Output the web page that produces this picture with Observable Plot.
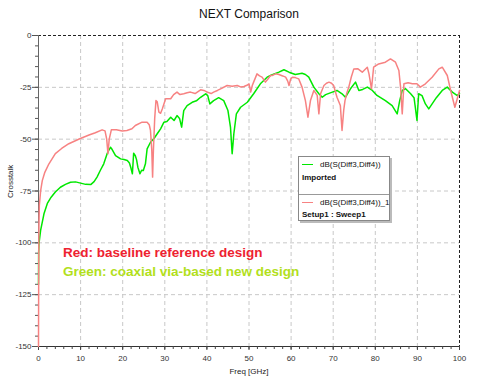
<!DOCTYPE html>
<html>
<head>
<meta charset="utf-8">
<script src="https://cdn.jsdelivr.net/npm/d3@7"></script>
<script src="https://cdn.jsdelivr.net/npm/@observablehq/plot@0.6"></script>
<style>
  html, body { margin: 0; padding: 0; background: #fff; }
  #wrap { position: relative; width: 480px; height: 390px; overflow: hidden; font-family: Arial, "Liberation Sans", sans-serif; }
  #wrap svg { position: absolute; left: 0; top: 0; }
  .legend { position: absolute; left: 298px; top: 156px; width: 90px; height: 63px; background: #fff; border: 1px solid #888; box-shadow: 2px 2px 0 #bbb; font-size: 8px; color: #111; }
  .legend .sw { position: absolute; left: 3px; width: 11px; height: 0; border-top: 1.5px solid; }
  .legend .nm { position: absolute; left: 21px; white-space: nowrap; line-height: 9px; }
  .legend .sub { position: absolute; left: 3px; font-weight: bold; white-space: nowrap; line-height: 9px; }
  .legend .sep { position: absolute; left: 0; width: 100%; top: 37px; border-top: 1px solid #999; }
  .note { position: absolute; left: 63px; font-weight: bold; font-size: 13.5px; white-space: nowrap; line-height: 16px; }
</style>
</head>
<body>
<div id="wrap"></div>
<script>
// ---- data ----
const redFreq = [0,0.05,0.1,0.2,0.5,0.9,1.5,2.45,4.0,5.5,7.2,9.8,12,13.5,15.1,15.8,16.2,16.5,16.8,17.3,18.5,19.9,21,22.2,23,24.6,25.8,26.3,26.6,26.9,27.1,27.3,27.6,27.9,28.2,28.6,29.0,29.4,30.2,31.4,32.1,32.9,33.6,34.5,35.3,36.1,37.2,38.5,39.3,40.1,41,41.6,42.5,43.5,44.8,46,47.2,48.0,48.8,49.5,50,50.4,50.8,51.1,51.9,52.5,53.1,53.9,54.5,55.1,55.5,56.3,57.1,58.0,58.7,59.2,59.5,59.9,60.3,61.0,61.8,62.6,63.4,64.0,64.6,65.4,66.2,66.6,67.0,67.8,68.4,69,69.6,70.1,70.9,71.7,72.1,72.5,72.8,73.2,73.7,74.3,74.9,75.8,76.9,77.5,78.1,78.5,79.1,79.6,80.8,82.4,83.6,84.8,85.6,86.0,86.4,86.8,87.8,88.8,89.9,90.7,91.9,93.5,95.1,95.9,97.1,97.9,98.9,99.4,100];
const redDb = [-150,-115,-92,-82,-75,-70,-66,-62,-57,-54.5,-52.2,-49.8,-48,-46.9,-45.5,-46,-50,-57,-50,-45.5,-45.5,-46.1,-45.8,-45,-43.4,-41.8,-41.8,-43,-45.8,-55,-68.3,-55,-40,-31.4,-32,-37,-37.5,-35.4,-30.5,-30.5,-28.5,-27.3,-28.5,-28.1,-27.6,-27.3,-28,-26.2,-26.5,-27.3,-28,-27.3,-26.5,-25.5,-24.1,-24.5,-24.1,-24.8,-24.6,-24,-23.3,-27.3,-24,-22.5,-18.5,-19.5,-20.1,-22.5,-21,-19.3,-19.3,-18.5,-18.8,-19.5,-20.1,-22,-24.1,-21,-20.1,-20.3,-20.9,-24.9,-31.4,-39.4,-31.4,-26.5,-28.9,-37.8,-28.1,-24.1,-23,-22.5,-23,-24.1,-29.8,-33.8,-45.8,-36,-31.4,-28,-24.9,-20,-16.1,-16,-17.7,-16.5,-15.3,-18.5,-25.7,-15.3,-13.7,-12.9,-11.3,-12.9,-16.9,-24.9,-37.8,-23.3,-22.8,-23.3,-23.3,-24.9,-23.3,-20.1,-16.1,-15.3,-19.3,-26.5,-34.6,-31,-26.5];

const greenFreq = [0,0.03,0.1,0.5,1.3,2.1,3,4,5.2,6.4,7.6,8.8,10,11.2,12.4,13.2,13.9,14.7,15.5,16.3,16.8,17.1,17.5,18.3,19.5,20.3,21.1,21.6,21.9,22.3,22.6,23.0,23.3,23.6,24.1,24.5,24.9,25.4,25.8,26.6,27.4,28.2,29,29.8,30.5,31.4,32.2,32.9,33.5,34,34.5,35.3,36.5,37.5,38.5,39.7,40.2,40.7,41.6,42.8,44,45,45.6,46,46.4,47,48,49.6,51.1,52.7,54.3,55.1,56,57.1,58.3,59.5,61,62.6,63.4,64.2,65.4,66.6,67.4,68.2,69.8,70.9,72.1,72.9,74.1,75.3,76.1,77.0,78.1,79.3,80.4,82.4,84,85.2,85.8,86.4,87.2,88.4,89.2,89.5,89.9,90.3,91.1,91.9,92.7,93.5,94.5,95.9,97.1,98.3,99.4,100];
const greenDb = [-120,-105,-100.5,-94,-86,-81,-78,-75.5,-73.2,-71.8,-70.8,-70.6,-71.2,-71.8,-71.9,-70.5,-68.3,-65,-61.9,-57,-55,-53.9,-55,-57.9,-59.5,-59.8,-60.3,-61.5,-63.5,-66.7,-56.8,-58,-60,-63.5,-66.7,-65,-65.1,-61.9,-54.7,-51.5,-49.8,-47.4,-45,-41.8,-41.5,-39.4,-41,-38.6,-40,-44.2,-36.2,-33.8,-32.2,-31.5,-29.8,-28.1,-29,-33,-31.4,-30,-31.4,-36.2,-44.2,-57,-47.4,-37.8,-34.6,-32.2,-28.1,-23.3,-20.1,-19.3,-18.5,-17.7,-16.5,-17.7,-18.8,-18.2,-18.8,-20.1,-24.9,-28.1,-29.8,-28.5,-27.3,-26.5,-28.1,-29.8,-25.7,-22.5,-26.5,-26,-24.9,-26.5,-28.9,-31.4,-33.8,-37.8,-31.4,-26.5,-25.7,-28.1,-30,-34.6,-41,-28.1,-29,-33,-35.4,-33,-30,-26.5,-24.9,-27.3,-28.9,-28.1];

const xTicks = [0,10,20,30,40,50,60,70,80,90,100];
const yTicks = [0,-25,-50,-75,-100,-125,-150];
const xMinor = d3.range(0, 101, 2);
const yMinor = d3.range(-150, 1, 5);
const xGrid = [10,20,30,40,50,60,70,80,90];
const yGrid = [-25,-50,-75,-100,-125];

const titleText = ["NEXT Comparison"];
const xLabel = ["Freq [GHz]"];
const yLabel = ["Crosstalk"];

const red = redFreq.map((f, i) => ({f, v: redDb[i]}));
const green = greenFreq.map((f, i) => ({f, v: greenDb[i]}));

const chart = Plot.plot({
  width: 480,
  height: 390,
  marginLeft: 38,
  marginRight: 21,
  marginTop: 35,
  marginBottom: 44,
  style: {fontFamily: "Arial, 'Liberation Sans', sans-serif", fontSize: "8px", color: "#333", background: "transparent"},
  x: {domain: [0, 100], axis: null},
  y: {domain: [-150, 0], axis: null},
  marks: [
    Plot.gridX(xGrid, {stroke: "#c8c8c8", strokeOpacity: 1, strokeDasharray: "4,3"}),
    Plot.gridY(yGrid, {stroke: "#c8c8c8", strokeOpacity: 1, strokeDasharray: "4,3"}),
    Plot.ruleY([0], {stroke: "#222", strokeDasharray: "3,2"}),
    Plot.ruleX([100], {stroke: "#222", strokeDasharray: "3,2"}),
    Plot.ruleX([0], {stroke: "#666"}),
    Plot.ruleY([-150], {stroke: "#333"}),
    Plot.axisY(yMinor, {tickSize: 3, tickFormat: () => "", label: null, stroke: "#555"}),
    Plot.axisY(yTicks, {tickSize: 6, tickPadding: 1, tickFormat: d => String(d), label: null, stroke: "#555", fill: "#333"}),
    Plot.axisX(xMinor, {tickSize: 3, tickFormat: () => "", label: null, stroke: "#444"}),
    Plot.axisX(xTicks, {tickSize: 4, tickPadding: 5, tickFormat: d => String(d), label: null, stroke: "#444", fill: "#333"}),
    Plot.line(green, {x: "f", y: "v", stroke: "#00e800", strokeWidth: 1.5}),
    Plot.line(red, {x: "f", y: "v", stroke: "#f78282", strokeWidth: 1.5}),
    Plot.text(titleText, {frameAnchor: "top", dy: -26, fontSize: 12, fill: "#111"}),
    Plot.text(xLabel, {frameAnchor: "bottom", dy: 27, fontSize: 8, fill: "#222"}),
    Plot.text(yLabel, {frameAnchor: "left", dx: -28, dy: 7, rotate: -90, fontSize: 8, fill: "#222"})
  ]
});
const wrap = document.getElementById("wrap");
wrap.appendChild(chart);

// legend box (HTML overlay)
const legend = document.createElement("div");
legend.className = "legend";
legend.innerHTML = `
  <div class="sw" style="top:7px;border-color:#00e800"></div>
  <div class="nm" style="top:3px">dB(S(Diff3,Diff4))</div>
  <div class="sub" style="top:16px">Imported</div>
  <div class="sep"></div>
  <div class="sw" style="top:45px;border-color:#f78282"></div>
  <div class="nm" style="top:41px">dB(S(Diff3,Diff4))_1</div>
  <div class="sub" style="top:53px">Setup1 : Sweep1</div>`;
wrap.appendChild(legend);

const n1 = document.createElement("div");
n1.className = "note";
n1.style.top = "245px";
n1.style.color = "#ee2230";
n1.textContent = "Red: baseline reference design";
wrap.appendChild(n1);
const n2 = document.createElement("div");
n2.className = "note";
n2.style.top = "264px";
n2.style.color = "#b2e01c";
n2.textContent = "Green: coaxial via-based new design";
wrap.appendChild(n2);
</script>
</body>
</html>
